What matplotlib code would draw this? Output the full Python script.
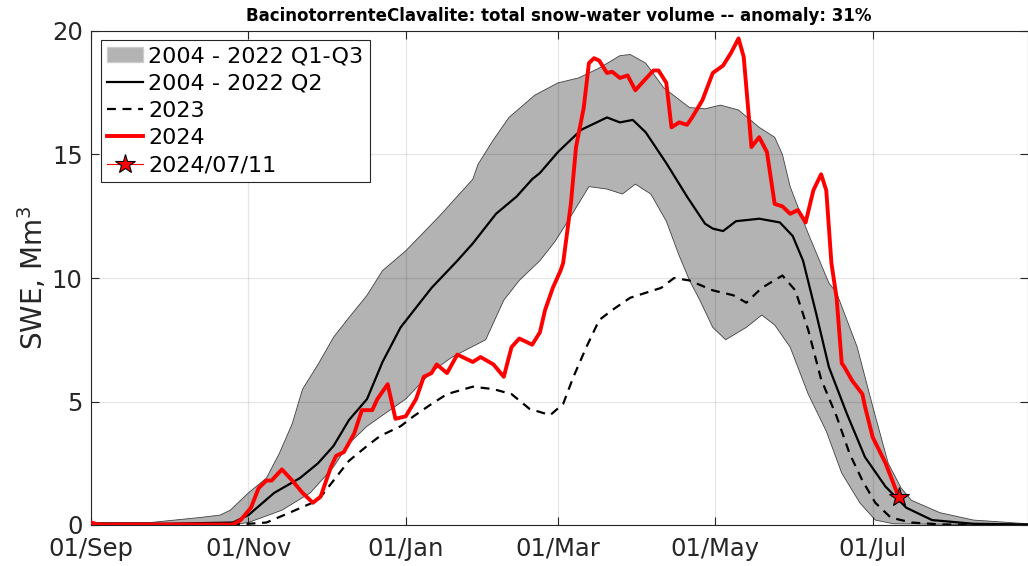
import matplotlib
matplotlib.use("Agg")
import matplotlib.pyplot as plt
from matplotlib.lines import Line2D
from matplotlib.patches import Patch
import numpy as np

# days since 01/Sep
tick_days = [0, 61, 122, 181, 242, 303]
tick_labels = ["01/Sep", "01/Nov", "01/Jan", "01/Mar", "01/May", "01/Jul"]

# 2004-2022 upper quartile (Q3)
q3_day = [0, 23, 42, 50, 54, 61, 68, 73, 78, 82, 88, 94, 100, 107, 113, 122, 135, 148,
          150, 156, 162, 172, 181, 189, 197, 205, 209, 215, 222, 232, 238, 244, 251,
          259, 265, 268, 271, 278, 286, 289, 297, 303, 309, 314, 318, 329, 342, 363]
q3_val = [0.1, 0.1, 0.3, 0.4, 0.6, 1.3, 1.9, 2.9, 4.1, 5.5, 6.5, 7.6, 8.4, 9.3, 10.3,
          11.1, 12.5, 14.0, 14.6, 15.6, 16.5, 17.4, 17.9, 18.1, 18.5, 19.0, 19.05, 18.7,
          17.7, 16.9, 16.85, 17.0, 16.8, 16.1, 15.7, 15.0, 13.7, 11.8, 9.8, 9.4, 7.2,
          4.8, 2.5, 1.5, 1.0, 0.5, 0.2, 0.05]

# 2004-2022 lower quartile (Q1)
q1_day = [0, 40, 55, 61, 74, 85, 94, 100, 107, 122, 132, 140, 153, 160, 166, 174, 180,
          186, 193, 200, 206, 211, 217, 223, 228, 232, 236, 241, 246, 254, 260, 265,
          271, 278, 285, 291, 298, 304, 311, 363]
q1_val = [0.0, 0.0, 0.02, 0.1, 0.6, 1.3, 2.35, 3.3, 4.0, 5.1, 6.2, 6.8, 7.5, 9.1, 9.9,
          10.7, 11.5, 12.5, 13.7, 13.6, 13.4, 13.8, 13.4, 12.3, 10.9, 9.9, 9.1, 8.0, 7.5,
          8.0, 8.5, 8.1, 7.2, 5.3, 3.8, 2.1, 0.9, 0.2, 0.05, 0.0]

# 2004-2022 median (Q2)
q2_day = [0, 30, 55, 61, 71, 81, 88, 94, 100, 107, 113, 120, 126, 132, 142, 148, 157,
          165, 171, 174, 181, 190, 200, 205, 210, 215, 223, 231, 238, 241, 245, 250,
          259, 267, 272, 276, 281, 286, 293, 300, 308, 316, 326, 342, 363]
q2_val = [0.05, 0.05, 0.1, 0.4, 1.3, 1.9, 2.5, 3.2, 4.25, 5.1, 6.6, 8.0, 8.8, 9.6, 10.7,
          11.4, 12.6, 13.3, 14.0, 14.25, 15.1, 16.0, 16.5, 16.3, 16.4, 15.9, 14.65, 13.3,
          12.2, 12.0, 11.9, 12.3, 12.4, 12.25, 11.7, 10.7, 8.6, 6.4, 4.5, 2.75, 1.55, 0.7,
          0.2, 0.05, 0.02]

# season 2023
y23_day = [0, 55, 61, 68, 77, 88, 94, 100, 107, 112, 120, 125, 132, 138, 148, 156, 163,
           170, 178, 183, 187, 192, 197, 202, 209, 215, 221, 226, 232, 241, 249, 254,
           260, 268, 273, 278, 283, 289, 294, 299, 304, 310, 318, 330, 363]
y23_val = [0.02, 0.02, 0.05, 0.1, 0.5, 1.0, 1.8, 2.6, 3.2, 3.6, 4.0, 4.4, 4.9, 5.3, 5.6,
           5.5, 5.3, 4.7, 4.45, 4.9, 6.0, 7.2, 8.3, 8.7, 9.2, 9.4, 9.6, 10.0, 9.9, 9.5,
           9.3, 9.0, 9.6, 10.1, 9.5, 7.9, 5.9, 4.4, 2.9, 1.8, 0.9, 0.3, 0.1, 0.02, 0.0]

# season 2024 (up to 2024/07/11)
y24_day = [0, 3, 55, 58, 62, 65, 68, 70, 74, 78, 82, 86, 89, 93, 95, 98, 102, 105, 109,
           111, 115, 118, 122, 126, 129, 132, 134, 138, 142, 148, 151, 156, 160, 163,
           166, 171, 174, 176, 179, 182, 183, 186, 188, 191, 193, 195, 197, 200, 202,
           205, 208, 211, 214, 218, 220, 223, 225, 228, 231, 233, 237, 241, 245, 248,
           251, 253, 256, 259, 262, 265, 268, 271, 274, 277, 280, 283, 285, 287, 289,
           291, 292, 295, 299, 300, 303, 308, 313]
y24_val = [0.1, 0.02, 0.02, 0.2, 0.7, 1.5, 1.8, 1.8, 2.25, 1.8, 1.3, 0.9, 1.15, 2.35,
           2.8, 2.95, 3.7, 4.65, 4.65, 5.1, 5.7, 4.3, 4.4, 5.1, 6.0, 6.15, 6.5, 6.15, 6.9,
           6.6, 6.8, 6.5, 6.0, 7.2, 7.55, 7.3, 7.8, 8.7, 9.6, 10.3, 10.6, 13.0, 15.3,
           16.9, 18.7, 18.9, 18.8, 18.3, 18.35, 18.1, 18.2, 17.6, 17.95, 18.4, 18.4, 17.9,
           16.1, 16.3, 16.2, 16.5, 17.2, 18.3, 18.6, 19.1, 19.7, 18.95, 15.3, 15.7, 15.1,
           13.0, 12.9, 12.6, 12.75, 12.25, 13.55, 14.2, 13.55, 10.6, 9.2, 6.55, 6.4, 5.85,
           5.3, 4.8, 3.55, 2.5, 1.15]

fig = plt.figure(figsize=(10.28, 5.66), dpi=100)
ax = fig.add_axes([91 / 1028, 41 / 566, 936.5 / 1028, 494 / 566])

band_x = q3_day + q1_day[::-1]
band_y = q3_val + q1_val[::-1]
ax.fill(band_x, band_y, color="#b3b3b3", lw=0, zorder=0.3)
ax.plot(q3_day, q3_val, color="#404040", lw=0.6, zorder=0.35)
ax.plot(q1_day, q1_val, color="#404040", lw=0.6, zorder=0.35)

ax.plot(q2_day, q2_val, color="k", lw=1.6, zorder=2)
ax.plot(y23_day, y23_val, color="k", lw=1.6, ls=(0, (4, 3)), zorder=2)
ax.plot(y24_day, y24_val, color="red", lw=2.8, zorder=3)
ax.plot(y24_day[-1], y24_val[-1], marker="*", ms=15, mfc="red", mec="k", mew=0.8,
        zorder=4)

ax.set_xlim(0, 363)
ax.set_ylim(0, 20)
ax.set_xticks(tick_days)
ax.set_xticklabels(tick_labels)
ax.set_yticks([0, 5, 10, 15, 20])
ax.set_axisbelow(True)
ax.grid(True, color="k", alpha=0.1, lw=0.9)
ax.tick_params(direction="in", length=6, width=0.8, top=True, right=True,
               labelsize=17.5, colors="#262626")
ax.tick_params(axis="x", pad=8.5)
ax.tick_params(axis="y", pad=6)
for s in ax.spines.values():
    s.set_color("#262626")
    s.set_linewidth(0.8)

ax.set_ylabel("SWE, Mm$^3$", fontsize=20, color="#262626", labelpad=2)
ax.set_title("BacinotorrenteClavalite: total snow-water volume -- anomaly: 31%",
             fontsize=12, fontweight="bold", pad=7)

handles = [
    Patch(facecolor="#b3b3b3", edgecolor="#cccccc"),
    Line2D([], [], color="k", lw=1.6),
    Line2D([], [], color="k", lw=1.6, ls=(0, (4, 3))),
    Line2D([], [], color="red", lw=2.8),
    Line2D([], [], color="red", lw=0.8, marker="*", ms=15, mfc="red", mec="k", mew=0.8),
]
labels = ["2004 - 2022 Q1-Q3", "2004 - 2022 Q2", "2023", "2024", "2024/07/11"]
leg = ax.legend(handles, labels, loc="upper left", bbox_to_anchor=(0.0107, 0.982),
                borderaxespad=0, fontsize=16, handlelength=1.6, handletextpad=0.25,
                labelspacing=0.33, borderpad=0.28, fancybox=False, framealpha=1,
                edgecolor="#262626")
leg.get_frame().set_linewidth(0.8)

fig.savefig("out.png", dpi=100)
